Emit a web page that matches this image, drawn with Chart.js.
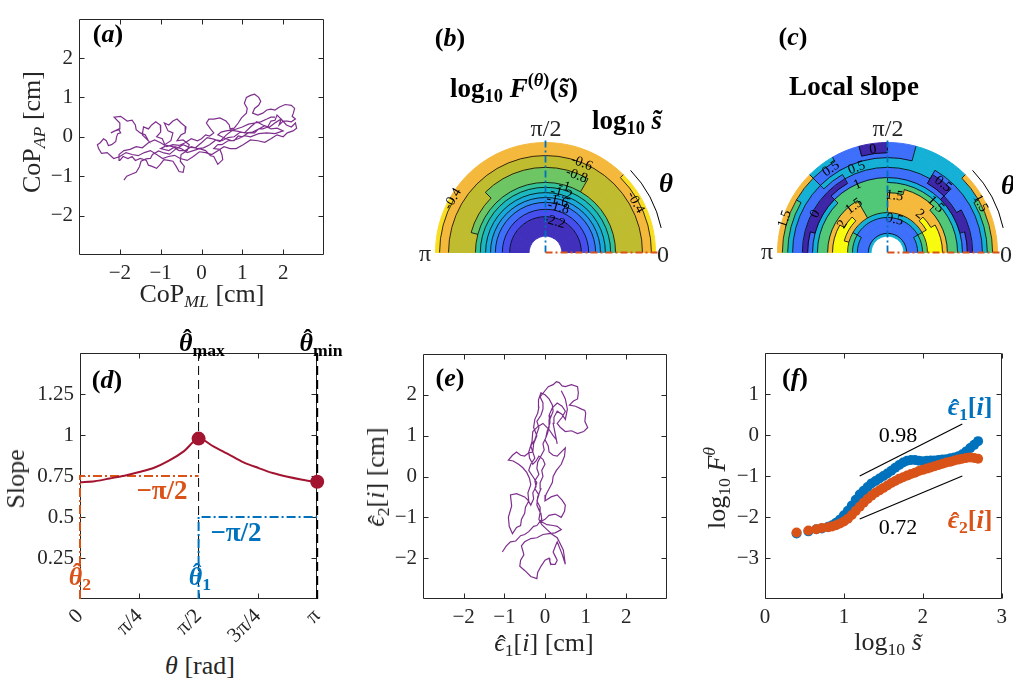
<!DOCTYPE html>
<html lang="en">
<head>
<meta charset="UTF-8">
<script src="https://cdn.jsdelivr.net/npm/chart.js@4"></script>
<title>Slope panels</title>
<style>
body { margin:0; background:#fff; }
#fig { position:relative; width:1013px; height:678px; overflow:hidden; font-family:"Liberation Serif","DejaVu Serif",serif; color:#262626; }
#fig canvas { position:absolute; }
.t { position:absolute; transform:translate(-50%,-50%); white-space:nowrap; line-height:1; font-size:26px; }
.r { transform:translate(-50%,-50%) rotate(-90deg); }
.lab { font-size:26px; color:#000; }
.t sub { font-size:68%; vertical-align:-0.3em; line-height:0; }
.t sup { font-size:68%; vertical-align:0.55em; line-height:0; }
.hat, .hatx { position:relative; display:inline-block; }
.hat::after, .hatx::after { content:"\02C6"; position:absolute; left:0.12em; right:0; text-align:center; font-style:normal; }
.hat::after { top:-0.14em; }
.hatx::after { top:0.06em; }
.blue { color:#0072BD; }
.orange { color:#D95319; }
</style>
</head>
<body>
<div id="fig">
  <canvas id="ca" width="340" height="290" style="left:0px;top:0px"></canvas>
  <canvas id="cb" width="300" height="260" style="left:400px;top:20px"></canvas>
  <canvas id="cc" width="273" height="260" style="left:740px;top:20px"></canvas>
  <canvas id="cd" width="340" height="320" style="left:0px;top:330px"></canvas>
  <canvas id="ce" width="340" height="300" style="left:340px;top:330px"></canvas>
  <canvas id="cf" width="333" height="300" style="left:680px;top:330px"></canvas>

  <!-- (a) -->
  <div class="t lab" style="left:108px;top:34px"><b>(<i>a</i>)</b></div>
  <div class="t" style="left:202px;top:294px">CoP<sub><i>ML</i></sub> [cm]</div>
  <div class="t r" style="left:32px;top:132px">CoP<sub><i>AP</i></sub> [cm]</div>

  <!-- (b) -->
  <div class="t lab" style="left:450px;top:38px"><b>(<i>b</i>)</b></div>
  <div class="t" style="left:514px;top:88px;font-size:27px;color:#000"><b>log<sub>10</sub> <i>F</i><sup>(<i>θ</i>)</sup>(<i>s̃</i>)</b></div>
  <div class="t" style="left:627px;top:120px;font-size:27px;color:#000"><b>log<sub>10</sub> <i>s̃</i></b></div>
  <div class="t" style="left:546px;top:128px;font-size:24px">π/2</div>
  <div class="t" style="left:425px;top:253px;font-size:24px">π</div>
  <div class="t" style="left:663px;top:254px;font-size:24px">0</div>
  <div class="t" style="left:666px;top:183px;font-size:27px;color:#000"><b><i>θ</i></b></div>

  <!-- (c) -->
  <div class="t lab" style="left:793px;top:37px"><b>(<i>c</i>)</b></div>
  <div class="t" style="left:854px;top:86px;font-size:27px;color:#000"><b>Local slope</b></div>
  <div class="t" style="left:888px;top:128px;font-size:24px">π/2</div>
  <div class="t" style="left:767px;top:251px;font-size:24px">π</div>
  <div class="t" style="left:1006px;top:254px;font-size:24px">0</div>
  <div class="t" style="left:1008px;top:185px;font-size:27px;color:#000"><b><i>θ</i></b></div>

  <!-- (d) -->
  <div class="t lab" style="left:107px;top:380px"><b>(<i>d</i>)</b></div>
  <div class="t" style="left:202px;top:343px;color:#000"><b><i class="hat">θ</i><sub>max</sub></b></div>
  <div class="t" style="left:321px;top:343px;color:#000"><b><i class="hat">θ</i><sub>min</sub></b></div>
  <div class="t orange" style="left:162px;top:490px;font-size:27px"><b>−π/2</b></div>
  <div class="t blue" style="left:236px;top:532px;font-size:27px"><b>−π/2</b></div>
  <div class="t orange" style="left:80px;top:577px"><b><i class="hat">θ</i><sub>2</sub></b></div>
  <div class="t blue" style="left:200px;top:577px"><b><i class="hat">θ</i><sub>1</sub></b></div>
  <div class="t" style="left:200px;top:666px"><i>θ</i> [rad]</div>
  <div class="t r" style="left:16px;top:479px">Slope</div>

  <!-- (e) -->
  <div class="t lab" style="left:450px;top:378px"><b>(<i>e</i>)</b></div>
  <div class="t" style="left:544px;top:643px"><i class="hatx">ϵ</i><sub>1</sub>[<i>i</i>] [cm]</div>
  <div class="t r" style="left:376px;top:477px"><i class="hatx">ϵ</i><sub>2</sub>[<i>i</i>] [cm]</div>

  <!-- (f) -->
  <div class="t lab" style="left:795px;top:378px"><b>(<i>f</i>)</b></div>
  <div class="t" style="left:888px;top:642px">log<sub>10</sub> <i>s̃</i></div>
  <div class="t r" style="left:717px;top:488px">log<sub>10</sub> <i>F</i><sup><i>θ</i></sup></div>
  <div class="t" style="left:898px;top:435px;font-size:22px;color:#000">0.98</div>
  <div class="t" style="left:898px;top:527px;font-size:22px;color:#000">0.72</div>
  <div class="t blue" style="left:970px;top:407px"><b><i class="hatx">ϵ</i><sub>1</sub>[<i>i</i>]</b></div>
  <div class="t orange" style="left:970px;top:520px"><b><i class="hatx">ϵ</i><sub>2</sub>[<i>i</i>]</b></div>
</div>
<script>
// ---- (a) raw CoP trajectory [cm]
var aX = [-1.90,-1.83,-1.72,-1.60,-1.52,-1.48,-1.36,-1.25,-1.20,-1.05,
  -0.92,-0.78,-0.62,-0.45,-0.31,-0.15,0.00,0.14,0.30,0.45,
  0.61,0.75,0.90,1.05,1.20,1.35,1.50,1.66,1.81,1.95,
  2.08,2.20,2.30,2.33,2.24,2.10,2.00,1.85,1.70,1.55,
  1.38,1.20,1.02,0.85,0.70,0.55,0.41,0.25,0.10,-0.05,
  -0.20,-0.35,-0.52,-0.66,-0.81,-0.95,-1.10,-1.25,-1.40,-1.55,
  -1.70,-1.85,-2.00,-2.15,-2.31,-2.45,-2.52,-2.55,-2.48,-2.40,
  -2.33,-2.28,-2.20,-2.10,-2.08,-2.05,-1.98,-2.02,-2.12,-2.22,
  -2.02,-2.00,-2.14,-1.98,-1.82,-1.70,-1.62,-1.60,-1.50,-1.38,
  -1.30,-1.45,-1.42,-1.30,-1.22,-1.12,-1.01,-1.00,-1.10,-0.96,
  -0.90,-0.75,-0.70,-0.82,-0.91,-0.80,-0.70,-0.60,-0.50,-0.38,
  -0.40,-0.50,-0.60,-0.45,-0.30,-0.35,-0.50,-0.52,-0.42,-0.45,
  -0.55,-0.62,-0.70,-0.81,-0.92,-1.01,-1.10,-1.21,-1.30,-1.35,
  -1.50,-1.62,-1.70,-1.80,-1.92,-2.00,-2.02,-1.90,-1.75,-1.60,
  -1.45,-1.30,-1.15,-1.00,-0.85,-0.70,-0.55,-0.40,-0.25,-0.10,
  0.00,0.10,0.20,0.30,0.22,0.12,0.18,0.30,0.45,0.60,
  0.68,0.70,0.80,0.90,0.98,1.10,1.12,1.05,1.10,1.20,
  1.30,1.40,1.45,1.40,1.30,1.25,1.38,1.50,1.60,1.70,
  1.80,1.90,2.05,2.20,2.28,2.25,2.22,2.30,2.20,2.10,
  2.00,1.90,1.95,1.85,1.80,1.70,1.62,1.50,1.40,1.30,
  1.15,1.00,0.90,0.80,0.65,0.50,0.40,0.30,0.45,0.50,
  0.52,0.40,0.36,0.30,0.22,0.10,-0.05,-0.20,-0.35,-0.50,
  -0.65,-0.80,-1.00,-0.85,-0.70,-0.55,-0.40,-0.25,-0.10,0.05,
  0.20,0.35,0.50,0.65,0.80,0.95,1.10,1.25,1.40,1.55,
  1.70,1.85,2.00,1.80,1.60,1.40,1.20,1.05,0.90,0.75,
  0.60,0.50,0.40,0.48,0.60,0.80,1.00,1.15,1.30,1.45,
  1.60,1.70,1.80];
var aY = [-1.10,-1.00,-0.95,-0.90,-0.76,-0.62,-0.56,-0.55,-0.45,-0.36,
  -0.41,-0.44,-0.30,-0.20,-0.26,-0.28,-0.15,-0.02,-0.06,-0.12,
  0.05,0.16,0.14,0.10,0.25,0.38,0.30,0.24,0.36,0.45,
  0.30,0.25,0.35,0.22,0.15,0.10,0.00,0.05,-0.05,-0.14,
  -0.10,-0.08,-0.20,-0.30,-0.30,-0.25,-0.35,-0.45,-0.40,-0.38,
  -0.50,-0.60,-0.55,-0.47,-0.50,-0.55,-0.45,-0.35,-0.40,-0.48,
  -0.45,-0.40,-0.50,-0.55,-0.40,-0.42,-0.30,-0.20,-0.15,-0.05,
  -0.10,-0.22,-0.20,-0.12,0.00,0.08,0.10,0.18,0.15,0.10,
  0.20,0.35,0.50,0.52,0.40,0.42,0.30,0.18,0.10,0.05,
  -0.10,0.05,0.25,0.20,0.30,0.38,0.30,0.12,0.00,-0.05,
  -0.20,-0.10,0.10,0.15,0.35,0.30,0.40,0.45,0.35,0.25,
  0.10,0.05,-0.10,-0.08,-0.20,-0.35,-0.45,-0.62,-0.75,-0.90,
  -0.88,-0.75,-0.62,-0.60,-0.58,-0.70,-0.80,-0.75,-0.72,-0.60,
  -0.55,-0.60,-0.50,-0.55,-0.50,-0.60,-0.45,-0.35,-0.32,-0.25,
  -0.28,-0.15,-0.08,-0.15,-0.25,-0.20,-0.22,-0.15,-0.05,-0.10,
  -0.05,0.05,0.02,0.10,0.20,0.35,0.45,0.45,0.48,0.40,
  0.30,0.20,0.22,0.35,0.48,0.60,0.72,0.85,1.00,1.05,
  1.08,1.00,0.90,0.80,0.72,0.60,0.55,0.60,0.68,0.70,
  0.68,0.75,0.82,0.80,0.72,0.60,0.52,0.45,0.38,0.40,
  0.40,0.30,0.45,0.55,0.42,0.40,0.25,0.20,0.20,0.10,
  0.10,0.00,0.02,-0.10,-0.10,-0.20,-0.20,-0.30,-0.32,-0.45,
  -0.58,-0.70,-0.62,-0.50,-0.48,-0.35,-0.30,-0.35,-0.40,-0.30,
  -0.25,-0.35,-0.30,-0.22,-0.25,-0.35,-0.35,-0.25,-0.30,-0.28,
  -0.20,-0.08,-0.10,-0.02,0.00,0.12,0.10,0.12,0.20,0.28,
  0.20,0.22,0.15,0.08,0.10,0.08,0.00,0.03,-0.05,-0.10,
  -0.05,0.00,0.05,0.12,0.15,0.18,0.25,0.32,0.35,0.38,
  0.45,0.50,0.50];

// ---- (e) rotated trajectory [cm]
var eX = [-1.05,-0.95,-0.85,-0.72,-0.60,-0.50,-0.40,-0.28,-0.20,-0.08,
  -0.10,-0.12,-0.20,-0.15,-0.25,-0.20,-0.30,-0.40,-0.35,-0.25,
  -0.30,-0.35,-0.25,-0.20,-0.15,-0.20,-0.10,-0.05,-0.05,-0.12,
  0.00,0.08,0.20,0.28,0.35,0.42,0.50,0.65,0.80,0.82,
  0.80,0.70,0.60,0.75,0.90,0.98,1.00,0.98,1.05,0.95,
  0.80,0.65,0.50,0.38,0.30,0.42,0.50,0.42,0.30,0.18,
  0.10,0.12,0.05,0.02,-0.05,-0.02,-0.10,-0.18,-0.20,-0.15,
  -0.25,-0.22,-0.30,-0.28,-0.35,-0.42,-0.50,-0.70,-0.85,-0.82,
  -0.90,-0.88,-0.80,-0.70,-0.60,-0.58,-0.50,-0.48,-0.40,-0.42,
  -0.35,-0.38,-0.45,-0.55,-0.65,-0.78,-0.90,-0.80,-0.70,-0.60,
  -0.50,-0.40,-0.30,-0.28,-0.20,-0.28,-0.25,-0.18,-0.15,-0.16,
  -0.10,0.00,0.10,0.18,0.20,0.12,0.10,0.06,0.00,0.08,
  0.10,0.20,0.30,0.42,0.50,0.48,0.40,0.28,0.20,0.18,
  0.10,0.02,0.00,0.15,0.30,0.42,0.50,0.48,0.40,0.25,
  0.10,0.00,-0.10,0.05,0.20,0.30,0.40,0.25,0.10,-0.05,
  -0.20,-0.35,-0.50,-0.58,-0.55,-0.52,-0.60,-0.62,-0.50,-0.35,
  -0.20,-0.18,-0.10,0.00,0.10,0.12,0.15,0.25,0.30,0.25,
  0.20,0.25,0.30,0.42,0.50,0.45,0.30,0.18,0.05,-0.08,
  -0.15,-0.12,-0.20,-0.18,-0.10,-0.12,-0.05,-0.08,0.00,-0.05,
  -0.15,-0.22,-0.30,-0.38,-0.40,-0.32,-0.30,-0.18,-0.05,0.10,
  0.20,0.28,0.30,0.25,0.20,0.22,0.30,0.42,0.50,0.55,
  0.50,0.45,0.40];
var eY = [-1.85,-1.70,-1.60,-1.58,-1.45,-1.42,-1.35,-1.22,-1.20,-1.05,
  -0.90,-0.75,-0.60,-0.45,-0.30,-0.15,0.00,0.15,0.30,0.45,
  0.60,0.75,0.90,1.05,1.20,1.35,1.50,1.65,1.80,1.95,
  2.10,2.20,2.25,2.32,2.30,2.22,2.20,2.25,2.20,2.05,
  1.90,1.85,1.75,1.72,1.65,1.62,1.55,1.35,1.20,1.10,
  1.05,1.12,1.10,1.20,1.30,1.45,1.60,1.72,1.80,1.68,
  1.50,1.30,1.10,0.95,0.80,0.65,0.50,0.35,0.20,0.05,
  -0.10,-0.25,-0.40,-0.55,-0.70,-0.58,-0.50,-0.42,-0.45,-0.72,
  -1.00,-1.22,-1.40,-1.25,-1.20,-1.05,-0.90,-0.75,-0.60,-0.40,
  -0.20,-0.05,0.10,0.22,0.30,0.38,0.40,0.52,0.60,0.52,
  0.50,0.58,0.60,0.80,1.00,1.20,1.40,1.55,1.70,1.88,
  2.05,2.00,1.90,1.75,1.60,1.40,1.20,1.05,0.90,0.75,
  0.60,0.52,0.50,0.62,0.70,0.50,0.30,0.15,0.00,-0.15,
  -0.30,-0.45,-0.60,-0.50,-0.45,-0.58,-0.70,-0.85,-1.00,-0.92,
  -0.95,-1.05,-1.10,-1.18,-1.20,-1.22,-1.30,-1.38,-1.40,-1.42,
  -1.50,-1.52,-1.60,-1.70,-1.80,-1.92,-2.05,-2.20,-2.30,-2.45,
  -2.50,-2.35,-2.20,-2.05,-2.00,-2.08,-2.15,-2.15,-2.05,-1.95,
  -1.85,-1.72,-1.60,-1.90,-2.15,-1.80,-1.50,-1.42,-1.30,-1.18,
  -1.05,-0.88,-0.70,-0.50,-0.30,-0.15,0.00,0.15,0.30,0.42,
  0.50,0.38,0.30,0.45,0.60,0.85,1.10,1.22,1.30,1.15,
  1.00,0.90,0.80,1.05,1.30,1.45,1.60,1.52,1.40,1.65,
  1.90,2.00,2.10];
var trajTicks = [-2, -1, 0, 1, 2];

// ---- (d) slope vs projection angle
var dTheta = [0, 0.196, 0.393, 0.589, 0.785, 0.982, 1.178, 1.374, 1.571, 1.767, 1.963, 2.160, 2.356, 2.553, 2.749, 2.945, 3.142];
var dSlope = [0.712, 0.718, 0.735, 0.752, 0.774, 0.800, 0.843, 0.900, 0.978, 0.930, 0.884, 0.835, 0.800, 0.768, 0.745, 0.727, 0.712];
var thetaMax = Math.PI / 2, slopeMax = 0.978;
var thetaMin = Math.PI, slopeMin = 0.715;
var theta1 = Math.PI / 2, level1 = 0.5;   // blue reference
var theta2 = 0, level2 = 0.75;            // orange reference
var dXTicks = [0, Math.PI / 4, Math.PI / 2, 3 * Math.PI / 4, Math.PI];
var dXLabels = ['0', 'π/4', 'π/2', '3π/4', 'π'];
var dYTicks = [0.25, 0.5, 0.75, 1, 1.25];

// ---- (f) fluctuation functions
var fS = [0.40,0.55,0.65,0.72,0.80,0.85,0.90,0.95,1.00,1.05,1.10,1.15,1.20,1.25,1.30,1.35,1.40,1.45,1.50,1.55,1.60,1.65,
  1.70,1.75,1.80,1.85,1.90,1.95,2.00,2.05,2.10,2.15,2.20,2.25,2.30,2.35,2.40,2.45,2.50,2.55,2.60,2.65,2.70];
var fE1 = [-2.40,-2.35,-2.30,-2.28,-2.24,-2.20,-2.14,-2.06,-1.96,-1.85,-1.72,-1.58,-1.45,-1.36,-1.27,-1.18,-1.12,-1.06,-1.00,-0.94,-0.87,-0.80,
  -0.73,-0.67,-0.63,-0.61,-0.61,-0.63,-0.64,-0.63,-0.62,-0.62,-0.61,-0.60,-0.59,-0.57,-0.55,-0.52,-0.47,-0.40,-0.32,-0.24,-0.15];
var fE2 = [-2.38,-2.33,-2.30,-2.27,-2.25,-2.23,-2.20,-2.16,-2.11,-2.04,-1.95,-1.85,-1.75,-1.65,-1.56,-1.48,-1.41,-1.35,-1.29,-1.23,-1.17,-1.12,
  -1.07,-1.03,-0.99,-0.95,-0.92,-0.88,-0.85,-0.82,-0.79,-0.76,-0.73,-0.70,-0.67,-0.65,-0.62,-0.60,-0.58,-0.56,-0.55,-0.56,-0.58];
var fFitX = [1.2, 2.5];
var fFit1 = [-1.00, 0.27];
var fFit2 = [-2.05, -1.00];
var fXTicks = [0, 1, 2, 3];
var fYTicks = [-3, -2, -1, 0, 1];

// ---- (b) log10 F(theta) on (theta, log10 s) grid: rows = rings (inner->outer), cols = 15 deg sectors from theta=0 to pi
var bEdges = [0.40, 0.88, 1.06, 1.23, 1.35, 1.47, 1.60, 1.72, 1.89, 2.09, 2.38, 2.60, 2.70];
var bVals = [
  [-2.3,-2.3,-2.3,-2.3,-2.3,-2.3,-2.3,-2.3,-2.3,-2.3,-2.3,-2.3],
  [-2.1,-2.1,-2.1,-2.1,-2.1,-2.1,-2.1,-2.1,-2.1,-2.1,-2.1,-2.1],
  [-1.9,-1.9,-1.9,-1.9,-1.9,-1.9,-1.9,-1.9,-1.9,-1.9,-1.9,-1.9],
  [-1.7,-1.7,-1.7,-1.7,-1.7,-1.7,-1.7,-1.7,-1.7,-1.7,-1.7,-1.7],
  [-1.5,-1.5,-1.5,-1.5,-1.5,-1.5,-1.5,-1.5,-1.5,-1.5,-1.5,-1.5],
  [-1.3,-1.3,-1.3,-1.3,-1.3,-1.3,-1.3,-1.3,-1.3,-1.3,-1.3,-1.3],
  [-1.1,-1.1,-1.1,-1.1,-1.1,-1.1,-1.1,-1.1,-1.1,-1.1,-1.1,-1.1],
  [-0.7,-0.7,-0.7,-0.7,-0.9,-0.9,-0.9,-0.9,-0.9,-0.9,-0.9,-0.7],
  [-0.7,-0.7,-0.7,-0.7,-0.9,-0.9,-0.9,-0.9,-0.9,-0.7,-0.7,-0.7],
  [-0.7,-0.7,-0.7,-0.7,-0.7,-0.7,-0.7,-0.7,-0.7,-0.7,-0.7,-0.7],
  [-0.5,-0.5,-0.5,-0.5,-0.5,-0.5,-0.5,-0.5,-0.5,-0.5,-0.5,-0.5],
  [-0.3,-0.3,-0.3,-0.5,-0.5,-0.5,-0.5,-0.5,-0.5,-0.5,-0.3,-0.3]
];
var bLabText  = ['-0.6', '-0.8', '-1', '-1.2', '-1.6', '-1.8', '-2.2', '-0.4', '-0.4'];
var bLabTheta = [68, 68, 74, 75, 77, 74, 74, 150, 29];
var bLabS     = [2.37, 2.04, 1.69, 1.50, 1.30, 1.15, 0.79, 2.63, 2.53];

// ---- (c) local slope on the same grid
var cEdges = [0.40, 0.47, 0.59, 0.74, 0.86, 0.98, 1.10, 1.23, 1.35, 1.47, 1.60, 1.72, 1.84, 1.96, 2.09, 2.21, 2.33, 2.45, 2.58, 2.70];
var cVals = [
  [0.75,0.75,0.75,0.75,0.75,0.75,0.75,0.75,0.75,0.75,0.75,0.75],
  [0.25,0.25,0.25,0.25,0.25,0.25,0.25,0.25,0.25,0.25,0.25,0.25],
  [0.25,0.25,0.25,0.25,0.25,0.25,0.25,0.25,0.25,0.25,0.25,0.25],
  [0.75,0.75,0.25,0.25,0.25,0.25,0.25,0.25,0.25,0.25,0.75,0.75],
  [1.25,1.25,0.75,0.75,0.75,0.75,0.75,0.75,0.75,0.75,1.25,1.25],
  [2.25,2.25,1.75,1.75,1.75,1.75,1.25,1.25,1.75,1.75,1.75,2.25],
  [2.25,2.25,2.25,1.75,1.75,1.75,1.25,1.25,1.75,2.25,2.25,2.25],
  [2.25,2.25,1.75,1.75,1.75,1.75,1.25,1.25,1.75,1.75,2.25,2.25],
  [1.75,1.75,1.75,1.75,1.75,1.75,1.25,1.25,1.75,1.75,1.75,1.75],
  [1.25,1.25,1.25,1.75,1.75,1.25,1.25,1.25,1.25,1.25,1.25,1.25],
  [1.25,1.25,1.25,1.25,1.25,1.25,1.25,1.25,1.25,1.25,1.25,1.25],
  [0.75,0.75,0.75,0.75,0.75,0.75,1.25,1.25,1.25,0.75,0.75,0.75],
  [0.25,-0.25,-0.25,0.25,0.25,0.25,0.25,0.25,0.25,-0.25,-0.25,0.25],
  [-0.25,-0.25,0.25,-0.25,0.25,0.25,0.25,0.25,-0.25,-0.25,-0.25,-0.25],
  [0.25,0.25,0.25,-0.25,0.75,0.75,0.75,0.75,0.25,0.25,0.25,0.25],
  [0.25,0.25,0.25,0.25,0.75,0.75,0.75,0.75,0.75,0.25,0.25,0.25],
  [0.75,0.75,0.75,0.75,0.75,0.25,0.25,0.25,0.25,0.75,0.75,0.75],
  [1.25,1.25,0.75,0.75,0.75,0.25,-0.25,0.25,0.25,0.75,1.25,1.25],
  [1.75,1.75,1.75,0.75,0.75,0.25,-0.25,0.25,0.75,1.75,1.75,1.75]
];
var cLabText  = ['0', '0.5', '0.5', '1', '1.5', '2', '1.5', '2', '0.5', '0.5', '1.5', '1.5', '1.5', '0'];
var cLabTheta = [98, 124, 110, 114, 126, 148, 83, 50, 78, 51, 45, 28, 162, 152];
var cLabS     = [2.55, 2.48, 2.21, 1.82, 1.40, 1.30, 1.40, 1.23, 0.83, 2.16, 1.67, 2.58, 2.65, 2.01];

var PURPLE = '#7E2F8E', DRED = '#A2142F', BLUE = '#0072BD', ORANGE = '#D95319', AXIS = '#262626';
var PARULA = [[62,38,168],[71,72,235],[62,111,250],[39,150,235],[21,176,213],[31,190,178],[80,200,120],[184,189,46],[245,185,60],[249,227,31],[249,251,14]];

Chart.defaults.font.family = '"Liberation Serif", "DejaVu Serif", serif';
Chart.defaults.font.size = 21;
Chart.defaults.color = AXIS;
Chart.defaults.animation = false;
Chart.defaults.plugins.legend.display = false;
Chart.defaults.plugins.tooltip.enabled = false;

function parula(t) {
    t = Math.min(1, Math.max(0, t)) * (PARULA.length - 1);
    var i = Math.min(Math.floor(t), PARULA.length - 2), f = t - i;
    var c = PARULA[i].map(function (v, k) { return Math.round(v + (PARULA[i + 1][k] - v) * f); });
    return 'rgb(' + c.join(',') + ')';
}

function minus(v) { return String(v).replace('-', '\u2212'); }

function pts(xs, ys) { return xs.map(function (v, i) { return {x: v, y: ys[i]}; }); }

function axis(min, max, ticks, size, labels, tickOpts) {
    return {
        type: 'linear', min: min, max: max,
        grid: {display: false, drawTicks: false},
        border: {display: false},
        afterBuildTicks: function (s) { s.ticks = ticks.map(function (v) { return {value: v}; }); },
        afterFit: function (s) { if (s.isHorizontal()) s.height = size; else s.width = size; },
        ticks: Object.assign({autoSkip: false, padding: 6, maxRotation: 0,
            callback: function (v, i) { return labels ? labels[i] : minus(v); }}, tickOpts || {})
    };
}

// box with inward ticks on all four sides, MATLAB style
var frame = {
    id: 'frame',
    beforeDatasetsDraw: function (chart) {
        var ctx = chart.ctx, a = chart.chartArea, x = chart.scales.x, y = chart.scales.y;
        var l = Math.round(a.left) + 0.5, r = Math.round(a.right) - 0.5, t = Math.round(a.top) + 0.5, b = Math.round(a.bottom) - 0.5;
        ctx.save();
        ctx.strokeStyle = AXIS;
        ctx.lineWidth = 1;
        ctx.beginPath();
        ctx.rect(l, t, r - l, b - t);
        x.ticks.forEach(function (tk) {
            var p = Math.round(x.getPixelForValue(tk.value)) + 0.5;
            ctx.moveTo(p, b); ctx.lineTo(p, b - 5);
            ctx.moveTo(p, t); ctx.lineTo(p, t + 5);
        });
        y.ticks.forEach(function (tk) {
            var p = Math.round(y.getPixelForValue(tk.value)) + 0.5;
            ctx.moveTo(l, p); ctx.lineTo(l + 5, p);
            ctx.moveTo(r, p); ctx.lineTo(r - 5, p);
        });
        ctx.stroke();
        ctx.restore();
    }
};

function cartesian(id, datasets, scales, pad) {
    return new Chart(document.getElementById(id), {
        type: 'scatter',
        data: {datasets: datasets},
        options: {responsive: false, layout: {autoPadding: false, padding: pad}, scales: scales},
        plugins: [frame]
    });
}

// (a)
cartesian('ca', [{
    data: pts(aX, aY), showLine: true, borderColor: PURPLE, borderWidth: 1.2, pointRadius: 0
}], {
    x: axis(-3, 3, trajTicks, 35),
    y: axis(-3, 3, trajTicks, 79)
}, {left: 0, top: 10, right: 16, bottom: 0});

// (e)
cartesian('ce', [{
    data: pts(eX, eY), showLine: true, borderColor: PURPLE, borderWidth: 1.2, pointRadius: 0
}], {
    x: axis(-3, 3, trajTicks, 31),
    y: axis(-3, 3, trajTicks, 83)
}, {left: 0, top: 24, right: 13, bottom: 0});

// (d)
var dashDot = [9, 3, 2, 3];
cartesian('cd', [
    {data: pts(dTheta, dSlope), showLine: true, borderColor: DRED, borderWidth: 2, pointRadius: 0, tension: 0.3, order: 1},
    {data: [{x: thetaMax, y: slopeMax}, {x: thetaMin, y: slopeMin}], pointRadius: 7, pointBackgroundColor: DRED,
        pointBorderColor: DRED, pointBorderWidth: 0, clip: false, order: 0},
    {data: [{x: thetaMax, y: 0}, {x: thetaMax, y: 1.5}], showLine: true, borderColor: '#000', borderWidth: 1,
        borderDash: [9, 5], pointRadius: 0, order: 4},
    {data: [{x: thetaMin, y: 0}, {x: thetaMin, y: 1.5}], showLine: true, borderColor: '#000', borderWidth: 2,
        borderDash: [9, 5], pointRadius: 0, clip: false, order: 4},
    {data: [{x: theta2, y: 0}, {x: theta2, y: level2}, {x: thetaMax, y: level2}], showLine: true, borderColor: ORANGE,
        borderWidth: 2, borderDash: dashDot, pointRadius: 0, clip: false, order: 3},
    {data: [{x: theta1, y: 0}, {x: theta1, y: level1}, {x: thetaMin, y: level1}], showLine: true, borderColor: BLUE,
        borderWidth: 2, borderDash: dashDot, pointRadius: 0, clip: false, order: 3}
], {
    x: axis(0, Math.PI, dXTicks, 51, dXLabels, {minRotation: 45, maxRotation: 45, padding: 5}),
    y: axis(0, 1.5, dYTicks, 80)
}, {left: 0, top: 23, right: 16, bottom: 0});

// (f)
cartesian('cf', [
    {data: pts(fS, fE2), pointRadius: 5, pointBackgroundColor: ORANGE, pointBorderWidth: 0, order: 0},
    {data: pts(fS, fE1), pointRadius: 5, pointBackgroundColor: BLUE, pointBorderWidth: 0, order: 1},
    {data: pts(fFitX, fFit1), showLine: true, borderColor: '#000', borderWidth: 1.2, pointRadius: 0, order: 2},
    {data: pts(fFitX, fFit2), showLine: true, borderColor: '#000', borderWidth: 1.2, pointRadius: 0, order: 2}
], {
    x: axis(0, 3, fXTicks, 31),
    y: axis(-4, 2, fYTicks, 85)
}, {left: 0, top: 23, right: 3, bottom: 0});

// (b), (c): half-disc maps, radius = log10 s, angle = theta
function polar(id, edges, rows, vmin, vmax, labText, labTheta, labS, pad) {
    var sMax = edges[edges.length - 1], n = rows.length, deg = Math.PI / 180;
    var chartRows = rows.map(function (r) { return r.slice().reverse(); });   // chart runs from theta = pi to 0
    var datasets = [];
    for (var i = n - 1; i >= 0; i--) {
        var cols = chartRows[i].map(function (v) { return parula((v - vmin) / (vmax - vmin)); });
        datasets.push({
            data: chartRows[i].map(function () { return 180 / chartRows[i].length; }),
            backgroundColor: cols, borderColor: cols, borderWidth: 1,
            weight: edges[i + 1] - edges[i], hoverOffset: 0
        });
    }
    var overlay = {
        id: 'overlay',
        afterDatasetsDraw: function (chart) {
            var ctx = chart.ctx, outer = chart.getDatasetMeta(0).data[0];
            var cx = outer.x, cy = outer.y, R = outer.outerRadius;
            ctx.save();
            // contour lines where neighbouring cells change level
            ctx.strokeStyle = '#000';
            ctx.lineWidth = 0.8;
            ctx.beginPath();
            for (var i = 0; i < n; i++) {
                var els = chart.getDatasetMeta(n - 1 - i).data, row = chartRows[i];
                els.forEach(function (e, k) {
                    if (i + 1 < n && chartRows[i + 1][k] !== row[k]) {
                        ctx.moveTo(cx + e.outerRadius * Math.cos(e.startAngle), cy + e.outerRadius * Math.sin(e.startAngle));
                        ctx.arc(cx, cy, e.outerRadius, e.startAngle, e.endAngle);
                    }
                    if (k + 1 < els.length && row[k + 1] !== row[k]) {
                        ctx.moveTo(cx + e.innerRadius * Math.cos(e.endAngle), cy + e.innerRadius * Math.sin(e.endAngle));
                        ctx.lineTo(cx + e.outerRadius * Math.cos(e.endAngle), cy + e.outerRadius * Math.sin(e.endAngle));
                    }
                });
            }
            ctx.stroke();
            // contour labels
            ctx.fillStyle = '#000';
            ctx.font = '14px "Liberation Serif", serif';
            ctx.textAlign = 'center';
            ctx.textBaseline = 'middle';
            labText.forEach(function (t, j) {
                var r = labS[j] / sMax * R, a = -labTheta[j] * deg;
                ctx.save();
                ctx.translate(cx + r * Math.cos(a), cy + r * Math.sin(a));
                ctx.rotate((90 - labTheta[j]) * deg);
                ctx.fillText(t, 0, 0);
                ctx.restore();
            });
            // projection directions
            ctx.lineWidth = 1.8;
            ctx.setLineDash([7, 3, 2, 3]);
            [[theta1, BLUE], [theta2, ORANGE]].forEach(function (d) {
                ctx.strokeStyle = d[1];
                ctx.beginPath();
                ctx.moveTo(cx, cy);
                ctx.lineTo(cx + (R + 3) * Math.cos(-d[0]), cy + (R + 3) * Math.sin(-d[0]));
                ctx.stroke();
            });
            ctx.setLineDash([]);
            // theta direction arc
            ctx.strokeStyle = '#000';
            ctx.lineWidth = 1;
            ctx.beginPath();
            ctx.arc(cx, cy, R * 1.075, -44 * deg, -12 * deg);
            ctx.stroke();
            ctx.restore();
        }
    };
    return new Chart(document.getElementById(id), {
        type: 'doughnut',
        data: {datasets: datasets},
        options: {
            responsive: false, rotation: -90, circumference: 180,
            cutout: (edges[0] / sMax * 100) + '%', spacing: 0,
            layout: {padding: pad}
        },
        plugins: [overlay]
    });
}

polar('cb', bEdges, bVals, -2.37, -0.03, bLabText, bLabTheta, bLabS, {left: 35, right: 44, top: 122, bottom: 27});
polar('cc', cEdges, cVals, -0.25, 2.25, cLabText, cLabTheta, cLabS, {left: 37, right: 15, top: 122, bottom: 27});
</script>
</body>
</html>
